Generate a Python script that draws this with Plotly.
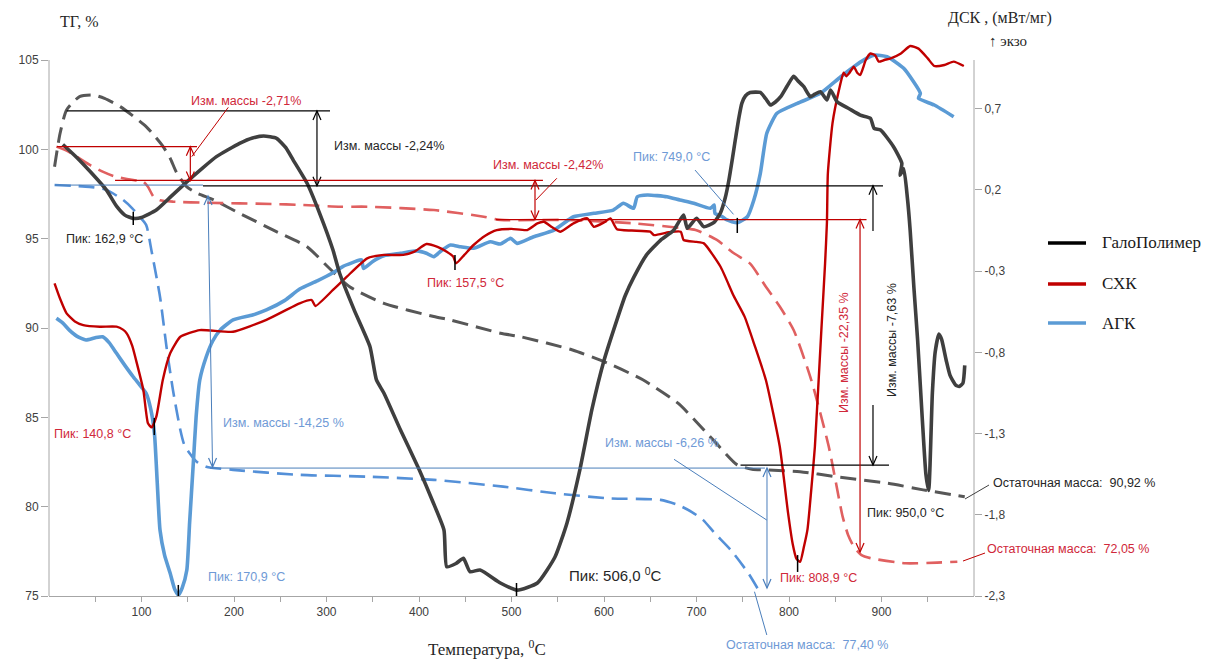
import plotly.graph_objects as go

# ---------------- data ----------------
series_names = ["ГалоПолимер", "СХК", "АГК"]

# DSC (mW/mg), solid curves, right axis
galo_dsc_t = [15, 30, 45, 62, 73, 82, 91, 100, 116, 132, 149, 165, 181, 206, 220, 232, 246, 256, 264, 279,
              293, 307, 314, 330, 347, 354, 362, 380, 400, 415, 427, 430, 440, 448, 455, 466, 488, 506, 528, 547,
              560, 574, 587, 600, 614, 623, 632, 646, 661, 675, 686, 690, 700, 708, 719, 726, 731, 735, 739, 742,
              746, 749, 753, 758, 769, 775, 780, 785, 791, 798, 805, 810, 816, 823, 828, 834, 841, 845, 852, 865,
              877, 888, 892, 899, 913, 922, 920, 924, 928, 931, 935, 939, 944, 948, 951, 955, 958, 962, 965, 970,
              974, 980, 984, 988, 990]
galo_dsc = [0.48, 0.40, 0.31, 0.20, 0.10, 0.045, 0.025, 0.03, 0.076, 0.16, 0.25, 0.33, 0.405, 0.487, 0.52, 0.532, 0.518, 0.46, 0.384, 0.241,
            0.05, -0.17, -0.31, -0.54, -0.765, -0.97, -1.05, -1.278, -1.52, -1.72, -1.894, -2.12, -2.10, -2.068, -2.15, -2.14, -2.22, -2.264, -2.22, -2.06,
            -1.85, -1.52, -1.15, -0.85, -0.60, -0.45, -0.34, -0.20, -0.11, -0.05, 0.046, -0.036, 0.026, -0.027, 0.0, 0.06, 0.15, 0.26, 0.40, 0.51,
            0.65, 0.733, 0.78, 0.80, 0.80, 0.76, 0.723, 0.74, 0.774, 0.84, 0.90, 0.87, 0.836, 0.774, 0.79, 0.805, 0.754, 0.815, 0.743, 0.70,
            0.661, 0.641, 0.579, 0.569, 0.466, 0.364, 0.29, 0.33, 0.15, -0.05, -0.40, -0.72, -1.2, -1.55, -1.65, -1.05, -0.80, -0.687, -0.72, -0.85,
            -0.94, -1.0, -1.01, -0.99, -0.88]

shk_dsc_t = [6, 12, 19, 28, 37, 55, 73, 80, 84, 90, 95, 102, 107, 111, 116, 123, 131, 142, 163, 199,
             235, 271, 284, 288, 307, 322, 344, 362, 383, 395, 408, 420, 430, 437, 440, 449, 459, 472, 484, 500,
             517, 528, 535, 544, 553, 567, 582, 589, 600, 607, 614, 630, 650, 654, 670, 683, 686, 700, 708, 726,
             740, 752, 763, 775, 790, 799, 804, 808, 812, 816, 820, 824, 828, 835, 839, 841, 842, 847, 854, 859,
             862, 865, 870, 874, 877, 883, 888, 893, 897, 903, 910, 921, 931, 940, 950, 957, 968, 978, 989]
shk_dsc = [-0.375, -0.47, -0.56, -0.61, -0.632, -0.642, -0.642, -0.66, -0.683, -0.76, -0.868, -1.032, -1.237, -1.262, -1.196, -0.97, -0.806, -0.704, -0.663, -0.673,
           -0.60, -0.498, -0.478, -0.515, -0.416, -0.334, -0.221, -0.20, -0.20, -0.18, -0.133, -0.15, -0.18, -0.21, -0.252, -0.20, -0.139, -0.08, -0.047, -0.04,
           -0.047, -0.006, 0.004, -0.03, -0.057, -0.006, 0.025, -0.027, 0.0, 0.025, -0.042, -0.05, -0.057, -0.078, -0.06, -0.057, -0.108, -0.12, -0.129, -0.273,
           -0.45, -0.58, -0.76, -0.97, -1.38, -1.79, -1.98, -2.07, -2.09, -2.0, -1.89, -1.65, -1.38, -0.66, -0.252, 0.0, 0.30, 0.61, 0.815, 0.922,
           0.90, 0.918, 0.959, 0.92, 0.908, 1.0, 1.04, 1.03, 0.99, 1.0, 1.01, 1.04, 1.086, 1.07, 1.01, 0.963, 0.969, 0.99, 0.963]

agk_dsc_t = [8, 15, 22, 30, 40, 50, 58, 65, 73, 82, 91, 98, 105, 110, 114, 117, 120, 125, 131, 136,
             140, 144, 149, 152, 156, 159, 163, 170, 177, 185, 199, 220, 235, 255, 271, 290, 307, 318, 336, 338,
             340, 350, 362, 380, 398, 408, 416, 425, 434, 445, 459, 477, 488, 499, 506, 524, 546, 567, 589, 610,
             621, 632, 636, 647, 668, 682, 697, 715, 719, 720, 728, 733, 744, 755, 762, 769, 776, 787, 809, 834,
             856, 878, 892, 906, 924, 942, 940, 957, 978]
agk_dsc = [-0.59, -0.62, -0.663, -0.70, -0.724, -0.71, -0.704, -0.74, -0.806, -0.88, -0.95, -1.0, -1.052, -1.15, -1.30, -1.6, -1.894, -2.05, -2.16, -2.26,
           -2.294, -2.25, -2.14, -1.85, -1.483, -1.20, -0.97, -0.827, -0.73, -0.663, -0.60, -0.57, -0.539, -0.48, -0.41, -0.36, -0.31, -0.27, -0.232, -0.231,
           -0.283, -0.24, -0.205, -0.19, -0.175, -0.19, -0.211, -0.17, -0.139, -0.15, -0.159, -0.119, -0.133, -0.098, -0.129, -0.088, -0.047, 0.035, 0.056, 0.076,
           0.118, 0.087, 0.158, 0.169, 0.158, 0.138, 0.118, 0.087, 0.107, 0.056, 0.035, 0.015, -0.002, 0.035, 0.138, 0.302, 0.549, 0.672, 0.733, 0.795,
           0.897, 0.99, 1.03, 1.02, 0.949, 0.795, 0.764, 0.723, 0.651]

# TG (%), dashed curves, left axis
galo_tg_t = [6, 12, 19, 33, 48, 60, 77, 90, 105, 115, 123, 131, 138, 149, 160, 178, 206, 242, 279, 300,
             325, 362, 416, 434, 488, 509, 566, 604, 642, 680, 718, 744, 760, 775, 812, 850, 907, 945, 990]
galo_tg = [99.03, 100.9, 102.2, 102.95, 103.04, 102.85, 102.39, 101.9, 101.27, 100.7, 100.18, 99.5, 98.69, 97.9, 97.55, 97.17, 96.42, 95.49, 94.55, 93.5,
           92.31, 91.38, 90.64, 90.45, 89.71, 89.52, 88.77, 88.03, 87.1, 85.79, 83.74, 82.34, 82.1, 82.06, 81.96, 81.68, 81.31, 80.94, 80.56]

shk_tg_t = [8, 20, 30, 45, 58, 70, 80, 95, 102, 107, 113, 120, 134, 170, 242, 271, 315, 344, 416, 470,
            488, 560, 632, 686, 699, 722, 740, 758, 775, 790, 805, 824, 843, 858, 864, 870, 878, 888, 926, 960, 982]
shk_tg = [100.15, 99.9, 99.59, 99.1, 98.75, 98.5, 98.38, 98.25, 98.19, 97.9, 97.35, 97.15, 97.07, 97.01, 96.94, 96.89, 96.79, 96.79, 96.6, 96.23,
          96.05, 96.05, 95.86, 95.58, 95.49, 94.93, 94.2, 93.6, 92.31, 91.2, 89.89, 87.1, 83.36, 79.44, 78.4, 77.77, 77.3, 77.12, 76.83, 76.87, 76.92]

agk_tg_t = [6, 44, 62, 80, 90, 98, 105, 111, 120, 127, 134, 142, 146, 152, 160, 170, 199, 271, 344, 416,
            491, 547, 604, 661, 680, 695, 707, 720, 737, 756, 767]
agk_tg = [98.0, 97.9, 97.73, 97.17, 96.7, 96.23, 95.77, 94.27, 91.75, 88.95, 86.53, 84.29, 83.5, 82.99, 82.5, 82.24, 82.06, 81.78, 81.68, 81.5,
          81.12, 80.75, 80.47, 80.38, 80.1, 79.7, 79.26, 78.5, 77.58, 76.28, 75.34]

x_tick_vals = [100, 200, 300, 400, 500, 600, 700, 800, 900]
x_minor_vals = [50, 150, 250, 350, 450, 550, 650, 750, 850, 950]
tg_tick_vals = [75, 80, 85, 90, 95, 100, 105]
dsc_tick_vals = [-2.3, -1.8, -1.3, -0.8, -0.3, 0.2, 0.7]
dsc_tick_text = ["-2,3", "-1,8", "-1,3", "-0,8", "-0,3", "0,2", "0,7"]

# ---------------- styles ----------------
C_BLACK, C_RED, C_BLUE = "#3f3f3f", "#c00000", "#5b9bd5"
C_BLACK_D, C_RED_D, C_BLUE_D = "#575757", "#e06060", "#5490d8"
T_BLACK, T_RED, T_BLUE = "#262626", "#d0283a", "#6f9ad6"
L_BLACK, L_RED, L_BLUE = "#000000", "#c00000", "#4a7ebb"
AX = "#a6a6a6"
SANS = "Liberation Sans"
SERIF = "Liberation Serif"

fig = go.Figure()

dash = "16px,8px"
fig.add_trace(go.Scatter(x=galo_tg_t, y=galo_tg, mode="lines", yaxis="y", showlegend=False,
                         line=dict(color=C_BLACK_D, width=3, dash=dash, shape="spline", smoothing=0.6)))
fig.add_trace(go.Scatter(x=shk_tg_t, y=shk_tg, mode="lines", yaxis="y", showlegend=False,
                         line=dict(color=C_RED_D, width=2.6, dash=dash, shape="spline", smoothing=0.6)))
fig.add_trace(go.Scatter(x=agk_tg_t, y=agk_tg, mode="lines", yaxis="y", showlegend=False,
                         line=dict(color=C_BLUE_D, width=2.6, dash=dash, shape="spline", smoothing=0.6)))

fig.add_trace(go.Scatter(x=agk_dsc_t, y=agk_dsc, mode="lines", yaxis="y2", name=series_names[2], showlegend=False,
                         line=dict(color=C_BLUE, width=3.6, shape="spline", smoothing=0.5)))
fig.add_trace(go.Scatter(x=shk_dsc_t, y=shk_dsc, mode="lines", yaxis="y2", name=series_names[1], showlegend=False,
                         line=dict(color=C_RED, width=2.4, shape="spline", smoothing=0.5)))
fig.add_trace(go.Scatter(x=galo_dsc_t, y=galo_dsc, mode="lines", yaxis="y2", name=series_names[0], showlegend=False,
                         line=dict(color=C_BLACK, width=3.6, shape="spline", smoothing=0.5)))

shapes = []


def seg(x0, y0, x1, y1, color, width=1.2, xref="x", yref="y"):
    shapes.append(dict(type="line", x0=x0, y0=y0, x1=x1, y1=y1, xref=xref, yref=yref,
                       line=dict(color=color, width=width), layer="above"))


def head(x, y, color, up=True, yref="y"):
    p = "M -4,-9 L 0,0 L 4,-9" if up else "M -4,9 L 0,0 L 4,9"
    shapes.append(dict(type="path", xref="x", yref=yref, xsizemode="pixel", ysizemode="pixel",
                       xanchor=x, yanchor=y, path=p, line=dict(color=color, width=1.2), layer="above"))


# axis lines (left and right), drawn only over the labelled span
shapes.append(dict(type="line", xref="paper", yref="paper", x0=0, x1=0, y0=0, y1=536 / 556,
                   line=dict(color=AX, width=1)))
shapes.append(dict(type="line", xref="paper", yref="paper", x0=1, x1=1, y0=0, y1=536 / 556,
                   line=dict(color=AX, width=1)))

# black (ГалоПолимер) mass-change marks
seg(19.1, 102.15, 303.8, 102.15, L_BLACK)
seg(289.7, 102.15, 289.7, 97.96, L_BLACK)
head(289.7, 102.15, L_BLACK, True)
head(289.7, 97.96, L_BLACK, False)
seg(166.5, 97.96, 901.6, 97.96, L_BLACK)
seg(890.8, 95.43, 890.8, 97.96, L_BLACK)
head(890.8, 97.96, L_BLACK, True)
seg(747.6, 82.33, 908.1, 82.33, L_BLACK)
seg(890.8, 85.69, 890.8, 82.33, L_BLACK)
head(890.8, 82.33, L_BLACK, False)
seg(91.1, 0.066, 91.1, -0.016, "#000000", 1.5, yref="y2")
seg(505.4, -2.22, 505.4, -2.30, "#000000", 1.5, yref="y2")
seg(0.9903, 0.1745, 1.0162, 0.1996, "#404040", 1, xref="paper", yref="paper")

# red (СХК)
seg(8.6, 100.15, 160, 100.15, L_RED)
seg(152.8, 100.15, 152.8, 98.26, L_RED)
head(152.8, 100.15, L_RED, True)
head(152.8, 98.26, L_RED, False)
seg(71.4, 98.26, 534, 98.26, L_RED)
seg(154.3, 99.59, 193.8, 102.35, L_RED, 1)
seg(483.2, 96.07, 883.8, 96.07, L_RED)
seg(525.4, 98.26, 525.4, 96.07, L_RED)
head(525.4, 98.26, L_RED, True)
head(525.4, 96.07, L_RED, False)
seg(526.3, 97.16, 549, 98.38, L_RED, 1)
seg(876.8, 96.07, 876.8, 77.46, L_RED)
head(876.8, 96.07, L_RED, True)
head(876.8, 77.46, L_RED, False)
seg(438.9, -0.20, 438.9, -0.293, "#000000", 1.5, yref="y2")
seg(113.8, -1.204, 113.8, -1.309, "#000000", 1.5, yref="y2")
seg(809.3, -2.048, 809.3, -2.152, "#000000", 1.5, yref="y2")
seg(0.9881, 0.0629, 1.0119, 0.0773, L_RED, 1, xref="paper", yref="paper")

# blue (АГК)
seg(6.5, 98.0, 166.5, 98.0, L_BLUE, 1)
seg(171.9, 97.39, 176.8, 82.22, L_BLUE, 1)
head(171.9, 97.39, L_BLUE, True)
head(176.8, 82.22, L_BLUE, False)
seg(174, 82.16, 774, 82.16, L_BLUE, 1)
seg(776.2, 82.16, 776.2, 75.45, L_BLUE, 1)
head(776.2, 82.16, L_BLUE, True)
head(776.2, 75.45, L_BLUE, False)
seg(675.7, 82.65, 776, 79.25, L_BLUE, 1)
seg(0.7627, 0.0077, 0.776, -0.0701, L_BLUE, 1, xref="paper", yref="paper")
seg(744.1, 0.028, 744.1, -0.065, "#000000", 1.5, yref="y2")
seg(698.4, 98.84, 740, 96.36, L_BLUE, 1)
seg(139.8, -2.232, 139.8, -2.30, "#000000", 1.5, yref="y2")

ann = []


def txt(x, y, s, color, size=12.5, xanchor="center", angle=0, xref="x", yref="y", family=SANS):
    ann.append(dict(x=x, y=y, xref=xref, yref=yref, text=s, showarrow=False, xanchor=xanchor,
                    yanchor="middle", textangle=angle,
                    font=dict(family=family, size=size, color=color)))


txt(306, 100.19, "Изм. массы -2,24%", T_BLACK, xanchor="left")
txt(213, 102.71, "Изм. массы -2,71%", T_RED)
txt(539.5, 99.1, "Изм. массы -2,42%", T_RED)
txt(254, 84.68, "Изм. массы -14,25 %", T_BLUE)
txt(663, 83.55, "Изм. массы -6,26 %", T_BLUE)
txt(859.5, 88.6, "Изм. массы -22,35 %", T_RED, angle=-90)
txt(911.4, 89.33, "Изм. массы -7,63 %", T_BLACK, angle=-90)
txt(60.5, 94.98, "Пик: 162,9 °C", T_BLACK)
txt(47, 84.07, "Пик: 140,8 °C", T_RED)
txt(213, 76.08, "Пик: 170,9 °C", T_BLUE)
txt(450.8, 92.5, "Пик: 157,5 °C", T_RED)
txt(612, 76.18, "Пик: 506,0 <sup>0</sup>C", T_BLACK, size=15)
txt(673.5, 99.56, "Пик: 749,0 °C", T_BLUE)
txt(832.4, 76.02, "Пик: 808,9 °C", T_RED)
txt(925.4, 79.66, "Пик: 950,0 °C", T_BLACK)
txt(1.0184, 0.2032, "Остаточная масса:  90,92 %", T_BLACK, xanchor="left", xref="paper", yref="paper")
txt(1.0119, 0.0845, "Остаточная масса:  72,05 %", T_RED, xanchor="left", xref="paper", yref="paper")
txt(0.8195, -0.0881, "Остаточная масса:  77,40 %", T_BLUE, xref="paper", yref="paper")

# axis titles
txt(0.0335, 1.0324, "ТГ, %", "#262626", 16, xref="paper", yref="paper", family=SERIF)
txt(1.0281, 1.0396, "ДСК , (мВт/мг)", "#262626", 16, xref="paper", yref="paper", family=SERIF)
txt(1.0368, 0.9982, "↑ экзо", "#262626", 15, xref="paper", yref="paper", family=SERIF)
txt(0.4735, -0.0935, "Температура, <sup>0</sup>C", "#262626", 17, xref="paper", yref="paper", family=SERIF)

# legend (drawn in the right margin)
legend_colors = [L_BLACK, C_RED, C_BLUE]
legend_rows = [0.6349, 0.5612, 0.4910]
for name, col, yy in zip(series_names, legend_colors, legend_rows):
    shapes.append(dict(type="line", xref="paper", yref="paper", x0=1.080, x1=1.1211, y0=yy, y1=yy,
                       line=dict(color=col, width=3.5)))
    txt(1.1362, yy, name, "#1a1a1a", 17, xanchor="left", xref="paper", yref="paper", family=SERIF)

tickfont = dict(family=SANS, size=12, color="#404040")
fig.update_layout(
    width=1206, height=659,
    margin=dict(l=49, r=232, t=40, b=63),
    paper_bgcolor="white", plot_bgcolor="white",
    shapes=shapes, annotations=ann,
    xaxis=dict(range=[0, 1000], tickvals=x_tick_vals, ticks="outside", ticklen=5, tickcolor=AX,
               showline=True, linecolor=AX, linewidth=1, showgrid=False, zeroline=False, tickfont=tickfont,
               minor=dict(tickvals=x_minor_vals, ticks="outside", ticklen=5, tickcolor=AX)),
    yaxis=dict(range=[75, 105 + 20 / 17.867], tickvals=tg_tick_vals, ticks="outside", ticklen=7, tickcolor=AX,
               showline=False, showgrid=False, zeroline=False, tickfont=tickfont),
    yaxis2=dict(range=[-2.3, 1.0 + 20 / 162.4], overlaying="y", side="right", tickvals=dsc_tick_vals,
                ticktext=dsc_tick_text, ticks="outside", ticklen=7, tickcolor=AX, showline=False,
                showgrid=False, zeroline=False, tickfont=tickfont),
    showlegend=False,
)

fig.write_html("out.html", config={"displayModeBar": False},
               post_script="document.body.style.margin='0';document.body.style.overflow='hidden';")
